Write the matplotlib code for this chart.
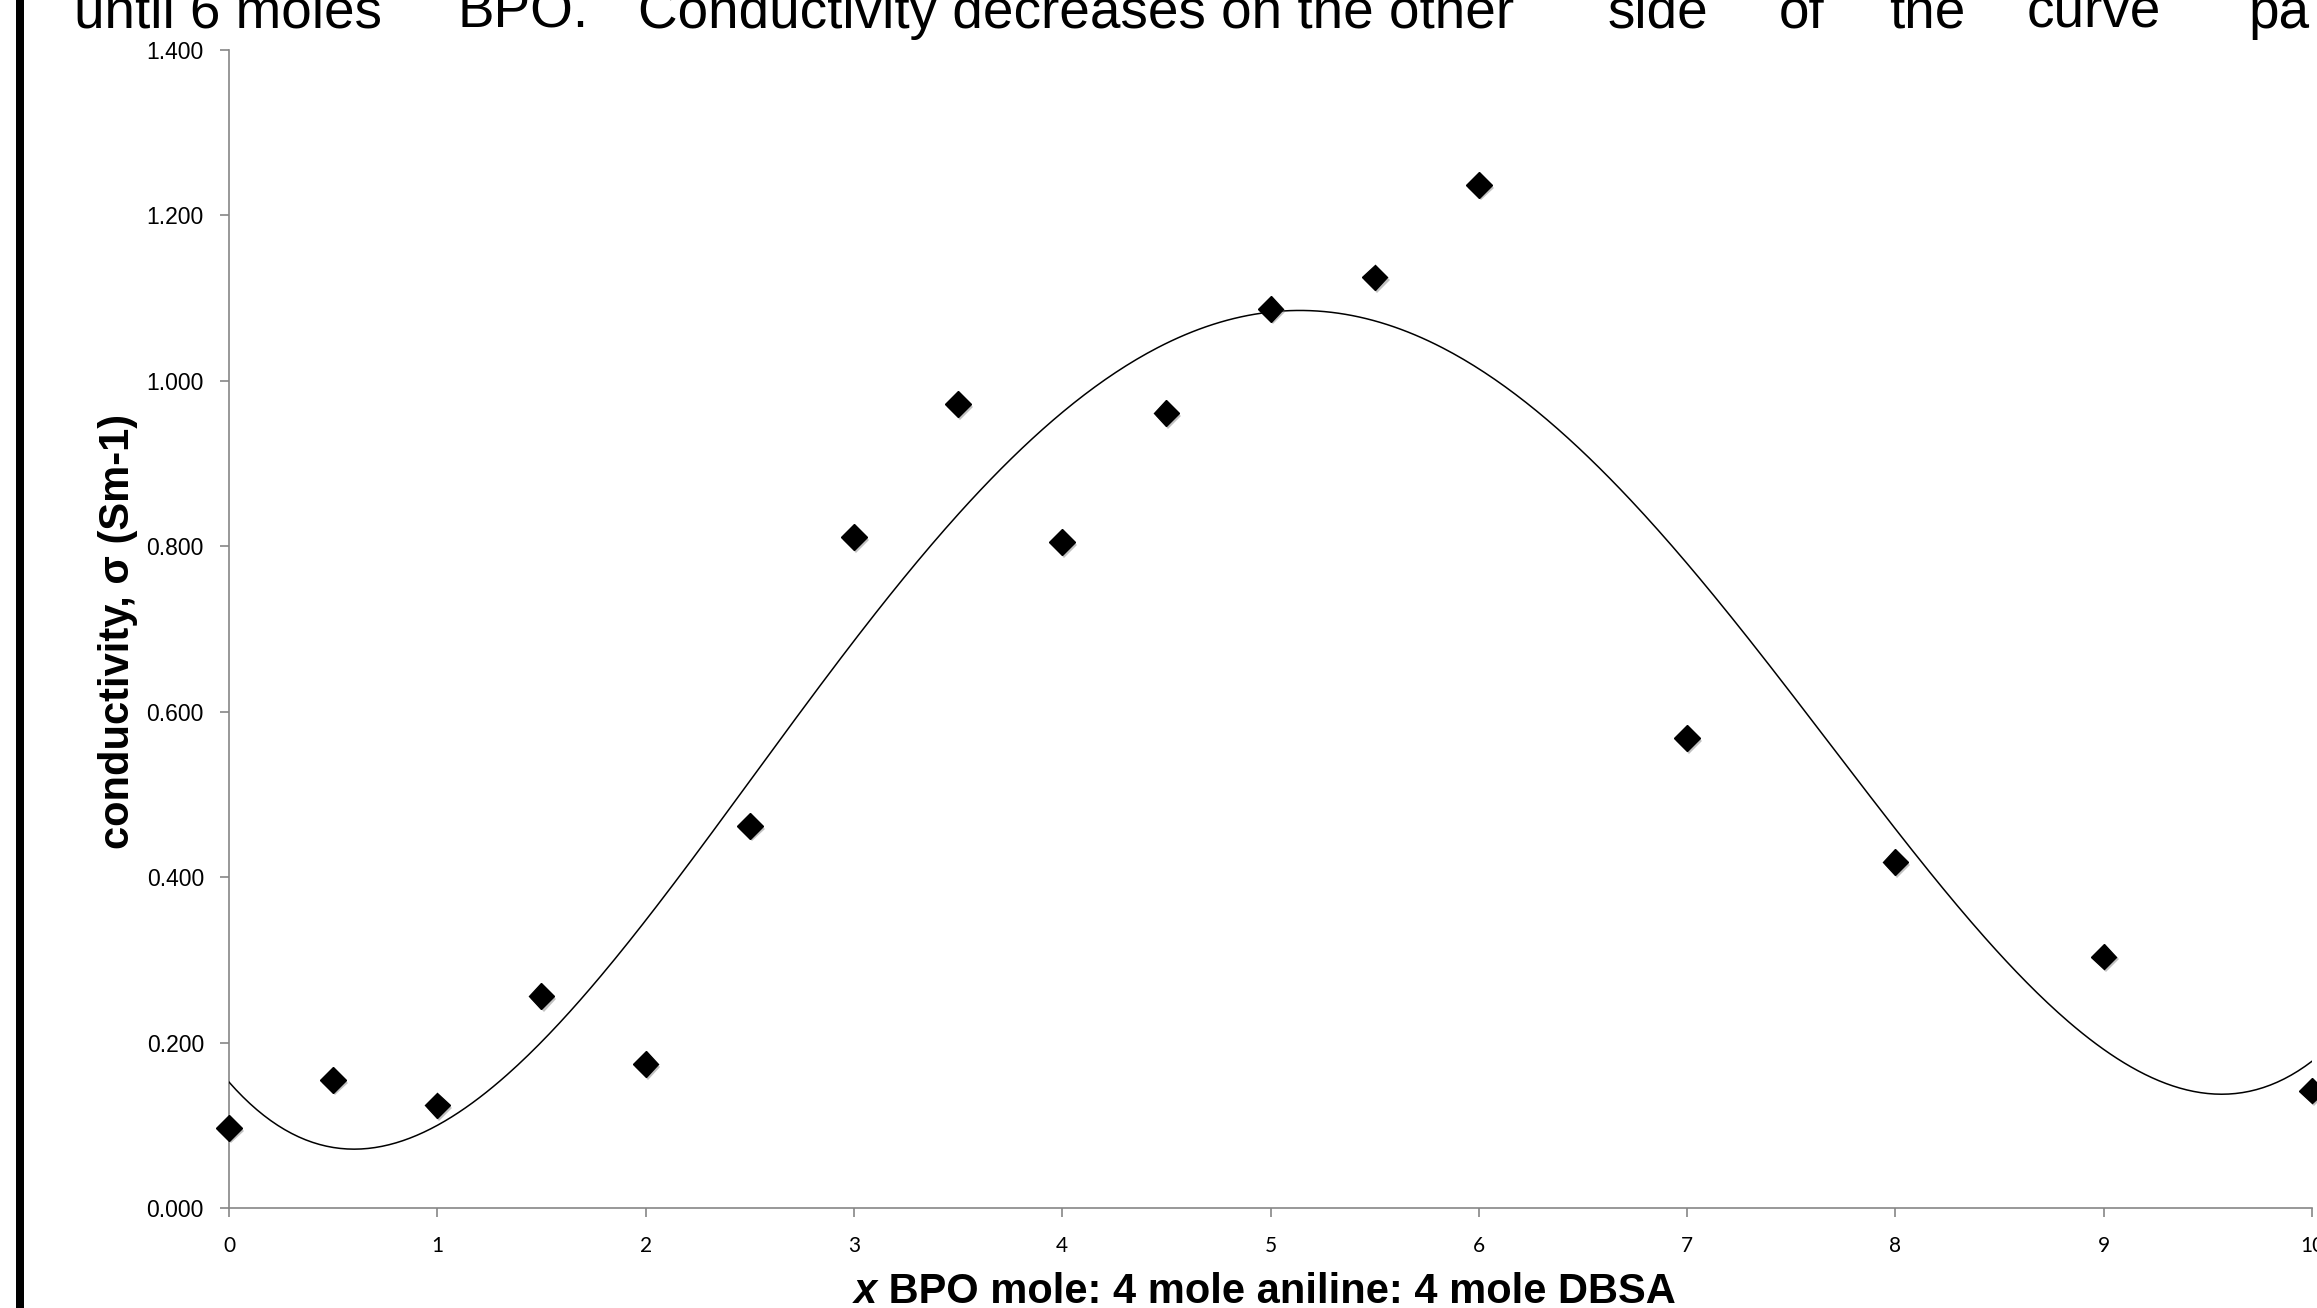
import numpy as np
import matplotlib
matplotlib.use("Agg")
import matplotlib.pyplot as plt
import matplotlib.patheffects as pe
from matplotlib.patches import Rectangle

# ---- data ----
bpo_moles = [0, 0.5, 1, 1.5, 2, 2.5, 3, 3.5, 4, 4.5, 5, 5.5, 6, 7, 8, 9, 10]
conductivity = [0.097, 0.155, 0.124, 0.256, 0.174, 0.462, 0.811, 0.972, 0.805,
                0.961, 1.087, 1.125, 1.237, 0.568, 0.418, 0.304, 0.142]
x_ticks = [0, 1, 2, 3, 4, 5, 6, 7, 8, 9, 10]
y_ticks = [0.0, 0.2, 0.4, 0.6, 0.8, 1.0, 1.2, 1.4]
trend_order = 4

top_chunks = ["until 6 moles", "BPO.", "Conductivity decreases on the other",
              "side", "of", "the", "curve", "pa"]

W, H = 2317, 1308
fig = plt.figure(figsize=(W / 100, H / 100), dpi=100)
fig.patch.set_facecolor("white")

ax = fig.add_axes([229 / W, 1 - 1208 / H, (2312 - 229) / W, (1208 - 50) / H])
ax.set_facecolor("white")

# trendline (Excel-style polynomial) fitted to the data
coef = np.polyfit(bpo_moles, conductivity, trend_order)
xs = np.linspace(0, 10, 600)
ax.plot(xs, np.polyval(coef, xs), color="black", lw=1.1, zorder=3)

ax.plot(bpo_moles, conductivity, linestyle="none", marker="D", markersize=13,
        color="black", clip_on=False, zorder=5,
        path_effects=[pe.SimplePatchShadow(offset=(1.5, -2), shadow_rgbFace="#777777", alpha=0.45),
                      pe.Normal()])

ax.set_xlim(0, 10)
ax.set_ylim(0, 1.4)
ax.set_xticks(x_ticks)
ax.set_xticklabels([str(t) for t in x_ticks], fontfamily="Lato", fontsize=15)
ax.set_yticks(y_ticks)
ax.set_yticklabels(["%.3f" % t for t in y_ticks], fontfamily="Liberation Sans", fontsize=16.5)

for s in ["top", "right"]:
    ax.spines[s].set_visible(False)
for s in ["left", "bottom"]:
    ax.spines[s].set_color("#868686")
    ax.spines[s].set_linewidth(1.2)
ax.tick_params(axis="both", direction="out", length=6.5, width=1.2, color="#868686")
ax.tick_params(axis="y", pad=11.5)
ax.tick_params(axis="x", pad=14)

# y label
fig.text(118 / W, 1 - 631 / H, "conductivity, σ (Sm-1)", rotation=90,
         ha="center", va="center", fontsize=30, fontweight="bold",
         family=["Liberation Sans", "DejaVu Sans"])

# x label: bold italic x + bold rest
renderer = fig.canvas.get_renderer()
tx = fig.text(854 / W, 1 - 1303 / H, "x", fontsize=30, fontweight="bold",
              fontstyle="italic", family="Liberation Sans", ha="left", va="baseline")
bb = tx.get_window_extent(renderer)
fig.text(bb.x1 / W, 1 - 1303 / H, " BPO mole: 4 mole aniline: 4 mole DBSA", fontsize=30,
         fontweight="bold", family="Liberation Sans", ha="left", va="baseline")

# cropped (justified) paragraph text at top
chunk_x = [74, 458, 638, 1608, 1779, 1889, 2027, 2248]
for w, px in zip(top_chunks, chunk_x):
    fig.text(px / W, 1 - 28 / H, w, fontsize=39.5, family="Liberation Sans",
             ha="left", va="baseline", color="black")

# black vertical bar at the left edge
fig.add_artist(Rectangle((16 / W, 0), 8 / W, 1, transform=fig.transFigure,
                         facecolor="black", edgecolor="none"))

fig.savefig("out.png", dpi=100, facecolor="white")
